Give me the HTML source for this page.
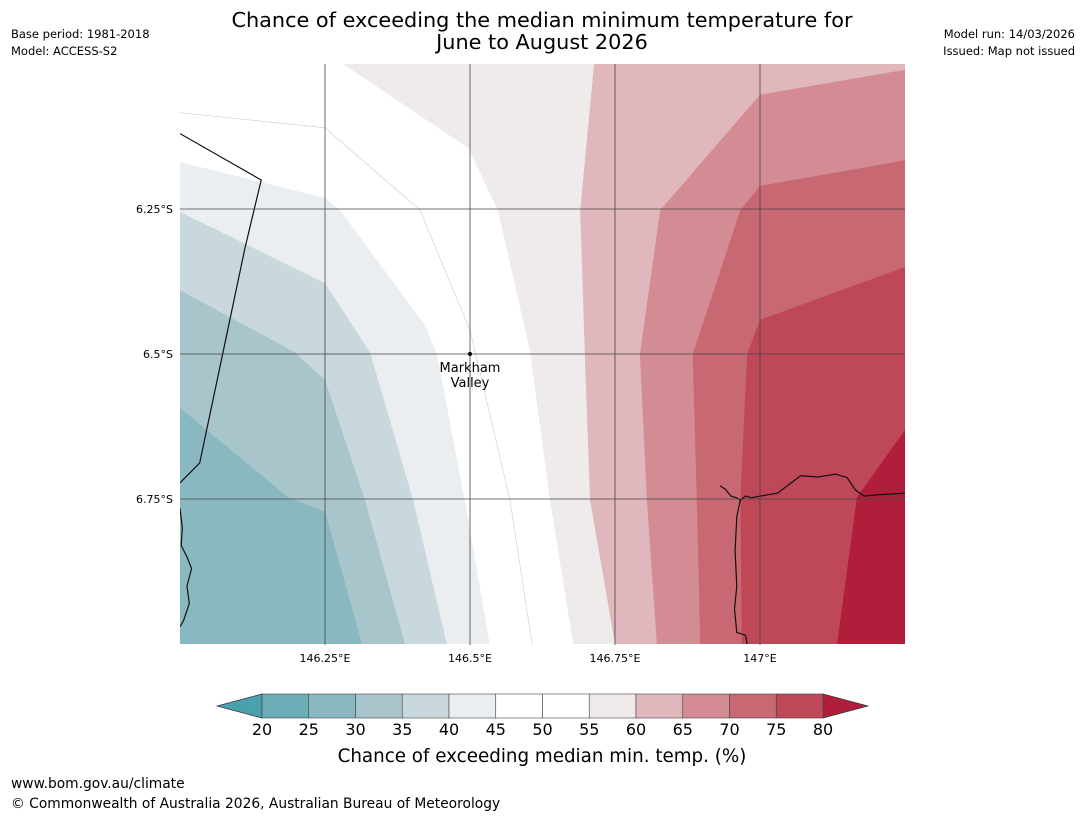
<!DOCTYPE html>
<html><head><meta charset="utf-8"><style>
body{margin:0;background:#fff;font-family:"Liberation Sans","DejaVu Sans",sans-serif;}
</style></head><body>
<svg width="1085" height="816" xmlns="http://www.w3.org/2000/svg" font-family="DejaVu Sans, Liberation Sans, sans-serif">
<text x="542" y="27" font-size="20.8" text-anchor="middle">Chance of exceeding the median minimum temperature for</text>
<text x="542" y="49" font-size="20.8" text-anchor="middle">June to August 2026</text>
<text x="11" y="38" font-size="11.5">Base period: 1981-2018</text>
<text x="11" y="55" font-size="11.5">Model: ACCESS-S2</text>
<text x="1075" y="38" font-size="11.5" text-anchor="end">Model run: 14/03/2026</text>
<text x="1075" y="55" font-size="11.5" text-anchor="end">Issued: Map not issued</text>
<defs><clipPath id="mc"><rect x="180" y="64" width="725" height="581"/></clipPath></defs>
<g id="map" clip-path="url(#mc)"><rect x="180" y="64" width="725" height="581" fill="#fff"/></g>
<g id="grid"></g>
<g id="axes" font-size="11"></g>
<g id="cbar"></g>
<text x="542" y="762" font-size="18.3" text-anchor="middle">Chance of exceeding median min. temp. (%)</text>
<text x="11" y="788" font-size="13.8">www.bom.gov.au/climate</text>
<text x="11" y="808" font-size="13.8">© Commonwealth of Australia 2026, Australian Bureau of Meteorology</text>
</svg>
<script>
const lonTicks=[146.25,146.5,146.75,147.0];
const lonLabels=["146.25°E","146.5°E","146.75°E","147°E"];
const latTicks=[-6.25,-6.5,-6.75];
const latLabels=["6.25°S","6.5°S","6.75°S"];
const levels=[20,25,30,35,40,45,50,55,60,65,70,75,80];
const levelColors=["#6dadb8","#8ab8c1","#a8c5cb","#c8d8dd","#eaeef1","#ffffff","#ffffff","#eeebea","#e0b7bc","#d48c94","#c86872","#bf4858"];
const underColor="#4aa0ae", overColor="#b01e3c";
const b30=[[146.0,-6.593],[146.186,-6.747],[146.25,-6.772],[146.314,-7.0]];
const b35=[[146.0,-6.39],[146.198,-6.497],[146.25,-6.545],[146.319,-6.752],[146.388,-7.0]];
const b40=[[146.0,-6.255],[146.25,-6.378],[146.328,-6.498],[146.402,-6.752],[146.460,-7.0]];
const b45=[[146.0,-6.169],[146.25,-6.231],[146.276,-6.252],[146.422,-6.45],[146.443,-6.5],[146.491,-6.752],[146.534,-7.0]];
const b50=[[146.0,-6.084],[146.25,-6.11],[146.414,-6.252],[146.5,-6.459],[146.569,-6.752],[146.607,-7.0]];
const b55=[[146.281,-6.0],[146.497,-6.145],[146.548,-6.252],[146.603,-6.493],[146.638,-6.752],[146.678,-7.0]];
const b60=[[146.714,-6.0],[146.690,-6.252],[146.698,-6.5],[146.707,-6.752],[146.75,-7.0]];
const b65=[[147.25,-6.01],[147.0,-6.053],[146.828,-6.252],[146.793,-6.5],[146.805,-6.752],[146.822,-7.0]];
const b70=[[147.25,-6.166],[147.0,-6.21],[146.966,-6.252],[146.884,-6.5],[146.891,-6.752],[146.897,-7.0]];
const b75=[[147.25,-6.35],[147.0,-6.441],[146.978,-6.5],[146.966,-6.752],[146.969,-7.0]];
const b80=[[147.25,-6.631],[147.167,-6.747],[147.133,-7.0]];
const border=[[146.0,-6.12],[146.14,-6.2],[146.112,-6.317],[146.034,-6.688],[146.0,-6.722]];
const coastW=[[146.0,-6.766],[146.004,-6.8],[146.002,-6.83],[146.012,-6.85],[146.02,-6.87],[146.012,-6.9],[146.016,-6.93],[146.006,-6.96],[146.0,-6.97]];
const coastE=[[146.931,-6.727],[146.94,-6.733],[146.95,-6.745],[146.96,-6.748],[146.966,-6.752],[146.975,-6.745],[146.985,-6.748],[147.0,-6.745],[147.03,-6.74],[147.05,-6.725],[147.07,-6.71],[147.1,-6.712],[147.13,-6.707],[147.15,-6.713],[147.165,-6.735],[147.18,-6.745],[147.2,-6.743],[147.25,-6.74]];
const coastE2=[[146.966,-6.752],[146.96,-6.78],[146.957,-6.84],[146.96,-6.9],[146.956,-6.94],[146.96,-6.98],[146.975,-6.985],[146.978,-7.0]];
const town={name:["Markham","Valley"],lon:146.5,lat:-6.5};

const X=lon=>180+(lon-146.0)*580;
const Y=lat=>64+(-lat-6.0)*580;
const NS="http://www.w3.org/2000/svg";
function mk(tag,attrs,parent){const e=document.createElementNS(NS,tag);for(const k in attrs)e.setAttribute(k,attrs[k]);parent.appendChild(e);return e;}
const pts=a=>a.map(p=>X(p[0]).toFixed(1)+","+Y(p[1]).toFixed(1)).join(" ");
const map=document.getElementById("map");
function fillLeft(b,col,name){const p=mk("polygon",{points:pts(b.concat([[146.0,-7.0]])),fill:col},map);

}
function fillRight(b,col,name){const p=mk("polygon",{points:pts(b.concat([[147.25,-7.0],[147.25,-6.0]])),fill:col},map);

}
fillLeft(b45,levelColors[4],"region-40-45");
fillLeft(b40,levelColors[3],"region-35-40");
fillLeft(b35,levelColors[2],"region-30-35");
fillLeft(b30,levelColors[1],"region-25-30");
fillRight(b55,levelColors[7],"region-55-60");
fillRight(b60,levelColors[8],"region-60-65");
fillRight(b65,levelColors[9],"region-65-70");
fillRight(b70,levelColors[10],"region-70-75");
fillRight(b75,levelColors[11],"region-75-80");
fillRight(b80,overColor,"region-over-80");
const l50=mk("polyline",{points:pts(b50),fill:"none",stroke:"#ccc","stroke-width":0.6},map);


[[border,"province-border"],[coastW,"coastline-west"],[coastE,"coastline-east"],[coastE2,"coastline-east-south"]].forEach(([c,n])=>{
const l=mk("polyline",{points:pts(c),fill:"none",stroke:"#111","stroke-width":1.2},map);

});
const grid=document.getElementById("grid"),axes=document.getElementById("axes");
lonTicks.forEach((v,i)=>{mk("line",{x1:X(v),x2:X(v),y1:64,y2:645,stroke:"#444","stroke-width":0.8},grid);
const t=mk("text",{x:X(v),y:662,"text-anchor":"middle"},axes);t.textContent=lonLabels[i];

});
latTicks.forEach((v,i)=>{mk("line",{x1:180,x2:905,y1:Y(v),y2:Y(v),stroke:"#444","stroke-width":0.8},grid);
const t=mk("text",{x:173,y:Y(v)+4,"text-anchor":"end"},axes);t.textContent=latLabels[i];

});
const dot=mk("circle",{cx:X(town.lon),cy:Y(town.lat),r:2,fill:"#000"},grid);


town.name.forEach((s,i)=>{const t=mk("text",{x:X(town.lon),y:Y(town.lat)+18+i*15,"text-anchor":"middle","font-size":13},grid);t.textContent=s;

});
const cb=document.getElementById("cbar");const cx0=262,cx1=823,cy0=694,cy1=718;
const CX=v=>cx0+(v-levels[0])/(levels[levels.length-1]-levels[0])*(cx1-cx0);
const lt=mk("polygon",{points:`${cx0},${cy0} ${217},${(cy0+cy1)/2} ${cx0},${cy1}`,fill:underColor,stroke:"#333","stroke-width":0.7},cb);


const rt=mk("polygon",{points:`${cx1},${cy0} ${868},${(cy0+cy1)/2} ${cx1},${cy1}`,fill:overColor,stroke:"#333","stroke-width":0.7},cb);


levelColors.forEach((c,i)=>{const r=mk("rect",{x:CX(levels[i]),y:cy0,width:CX(levels[i+1])-CX(levels[i]),height:cy1-cy0,fill:c,stroke:"#444","stroke-width":0.6},cb);

});
levels.forEach(v=>{const t=mk("text",{x:CX(v),y:735,"text-anchor":"middle","font-size":16},cb);t.textContent=v;

});
</script>
</body></html>
